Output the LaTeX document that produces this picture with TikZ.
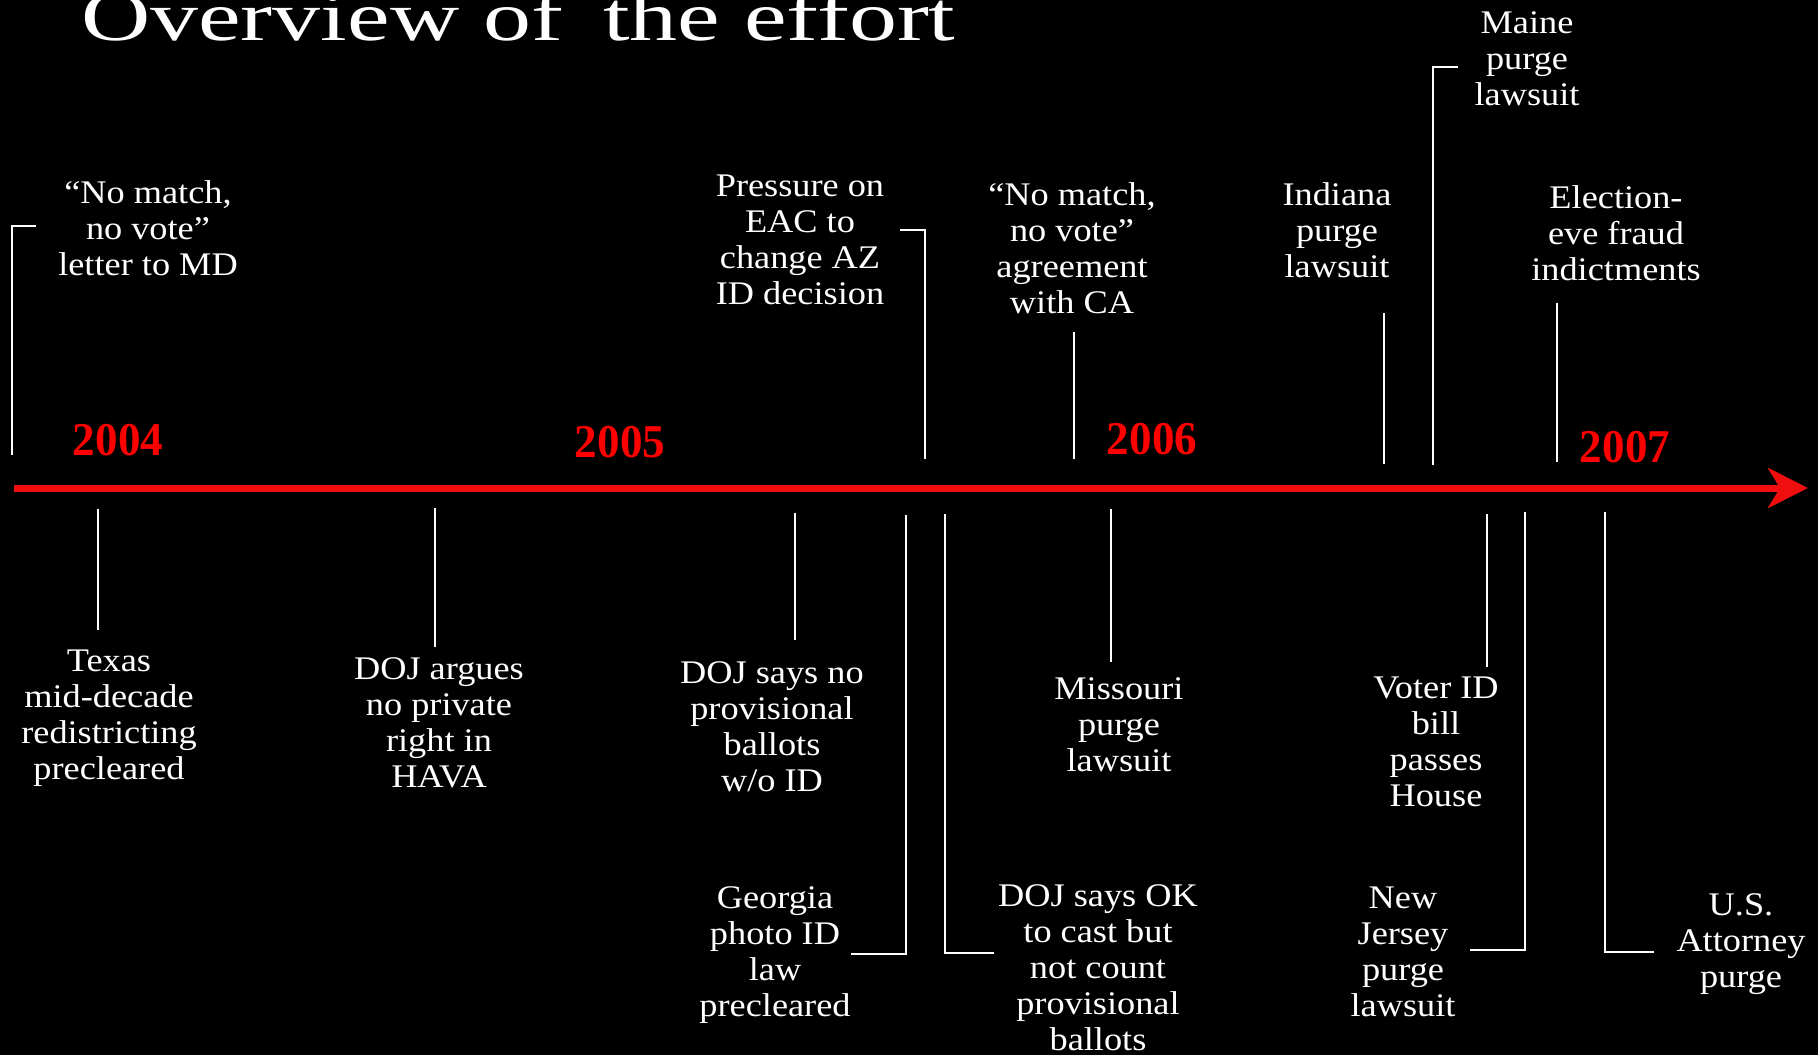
\documentclass[tikz,border=0pt]{standalone}
\usepackage{fontspec}
\setmainfont{Liberation Serif}[FakeStretch=1.1]
\newfontfamily\titlefont{Liberation Serif}[FakeStretch=1.37]
\newfontfamily\yearfont{Liberation Serif}[FakeStretch=0.96]
\usetikzlibrary{arrows.meta}
\newcommand\evt[1]{\begin{tabular}[t]{@{}c@{}}#1\end{tabular}}
\definecolor{axisred}{RGB}{240,14,14}
\definecolor{yearred}{RGB}{255,0,0}
\begin{document}
\begin{tikzpicture}[x=1pt,y=-1pt,
  evtext/.style={text=white, inner sep=0pt, anchor=base, font=\fontsize{33}{36}\selectfont},
  yeartext/.style={text=yearred, inner sep=0pt, anchor=base, font=\yearfont\bfseries\fontsize{47}{50}\selectfont},
  conn/.style={draw=white, line width=2pt},
  axisline/.style={draw=axisred, line width=7pt, -{Stealth[length=40pt,width=40pt,inset=12pt]}}]
\fill[black] (0,0) rectangle (1818,1055);
\useasboundingbox (0,0) rectangle (1818,1055);

% title
\node[text=white, inner sep=0pt, anchor=base west, font=\titlefont\fontsize{70}{72}\selectfont] (title) at (81,40) {Overview of\hspace{16pt} the effort};

% axis
\coordinate (axstart) at (14,488);
\coordinate (axend) at (1808,488);
\draw[axisline] (axstart) -- (axend);

% years
\node[yeartext] (y2004) at (118,455) {2004};
\node[yeartext] (y2005) at (620,457) {2005};
\node[yeartext] (y2006) at (1152,454) {2006};
\node[yeartext] (y2007) at (1625,462) {2007};

% top events
\node[evtext] (md) at (148,203) {\evt{“No match,\\ no vote”\\ letter to MD}};
\coordinate (md1) at (36,226); \coordinate (md2) at (11.5,226); \coordinate (md3) at (11.5,455);
\draw[conn] (md1) -- (md2) -- (md3);

\node[evtext] (eac) at (800,196) {\evt{Pressure on\\ EAC to\\ change AZ\\ ID decision}};
\coordinate (eac1) at (900,230); \coordinate (eac2) at (925,230); \coordinate (eac3) at (925,459);
\draw[conn] (eac1) -- (eac2) -- (eac3);

\node[evtext] (ca) at (1072,205) {\evt{“No match,\\ no vote”\\ agreement\\ with CA}};
\coordinate (ca1) at (1074,332); \coordinate (ca2) at (1074,459);
\draw[conn] (ca1) -- (ca2);

\node[evtext] (ind) at (1337,205) {\evt{Indiana\\ purge\\ lawsuit}};
\coordinate (ind1) at (1384,313); \coordinate (ind2) at (1384,464);
\draw[conn] (ind1) -- (ind2);

\node[evtext] (me) at (1527,33) {\evt{Maine\\ purge\\ lawsuit}};
\coordinate (me1) at (1458,67); \coordinate (me2) at (1433,67); \coordinate (me3) at (1433,465);
\draw[conn] (me1) -- (me2) -- (me3);

\node[evtext] (el) at (1616,208) {\evt{Election-\\ eve fraud\\ indictments}};
\coordinate (el1) at (1557,303); \coordinate (el2) at (1557,462);
\draw[conn] (el1) -- (el2);

% bottom events
\node[evtext] (tx) at (109,671) {\evt{Texas\\ mid-decade\\ redistricting\\ precleared}};
\coordinate (tx1) at (97.5,509); \coordinate (tx2) at (97.5,630);
\draw[conn] (tx1) -- (tx2);

\node[evtext] (hava) at (439,679) {\evt{DOJ argues\\ no private\\ right in\\ HAVA}};
\coordinate (hava1) at (434.5,508); \coordinate (hava2) at (434.5,647);
\draw[conn] (hava1) -- (hava2);

\node[evtext] (prov) at (772,683) {\evt{DOJ says no\\ provisional\\ ballots\\ w/o ID}};
\coordinate (prov1) at (795,513); \coordinate (prov2) at (795,640);
\draw[conn] (prov1) -- (prov2);

\node[evtext] (ga) at (775,908) {\evt{Georgia\\ photo ID\\ law\\ precleared}};
\coordinate (ga1) at (851,954); \coordinate (ga2) at (906,954); \coordinate (ga3) at (906,515);
\draw[conn] (ga1) -- (ga2) -- (ga3);

\node[evtext] (ok) at (1098,906) {\evt{DOJ says OK\\ to cast but\\ not count\\ provisional\\ ballots}};
\coordinate (ok1) at (994,953); \coordinate (ok2) at (945,953); \coordinate (ok3) at (945,514);
\draw[conn] (ok1) -- (ok2) -- (ok3);

\node[evtext] (mo) at (1119,699) {\evt{Missouri\\ purge\\ lawsuit}};
\coordinate (mo1) at (1111,509); \coordinate (mo2) at (1111,662);
\draw[conn] (mo1) -- (mo2);

\node[evtext] (vid) at (1436,698) {\evt{Voter ID\\ bill\\ passes\\ House}};
\coordinate (vid1) at (1487,514); \coordinate (vid2) at (1487,667);
\draw[conn] (vid1) -- (vid2);

\node[evtext] (nj) at (1403,908) {\evt{New\\ Jersey\\ purge\\ lawsuit}};
\coordinate (nj1) at (1470,950); \coordinate (nj2) at (1525,950); \coordinate (nj3) at (1525,512);
\draw[conn] (nj1) -- (nj2) -- (nj3);

\node[evtext] (us) at (1741,915) {\evt{U.S.\\ Attorney\\ purge}};
\coordinate (us1) at (1654,952); \coordinate (us2) at (1605,952); \coordinate (us3) at (1605,512);
\draw[conn] (us1) -- (us2) -- (us3);
\end{tikzpicture}
\end{document}
